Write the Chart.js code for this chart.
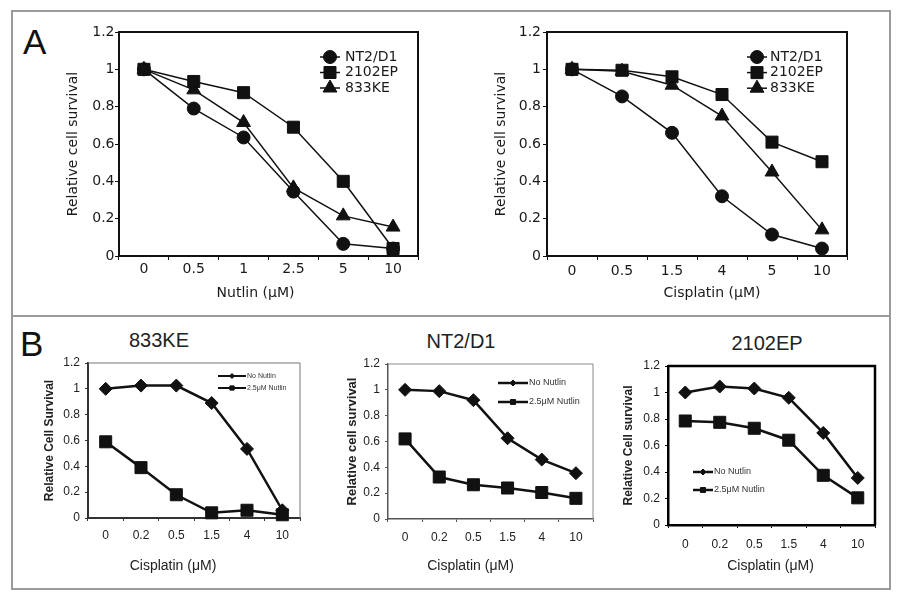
<!DOCTYPE html>
<html>
<head>
<meta charset="utf-8">
<script src="https://cdn.jsdelivr.net/npm/chart.js@4.4.0/dist/chart.umd.min.js"></script>
<style>
  body { margin: 0; background: #fff; width: 899px; height: 600px; position: relative; overflow: hidden; }
  .panel { position: absolute; box-sizing: border-box; border: 2px solid #9a9a9a; }
  canvas { position: absolute; }
  .letter { position: absolute; font: 35px/1 "Liberation Sans", Arial, sans-serif; color: #111; }
  .title { position: absolute; width: 120px; text-align: center; font: 20px/1 "Liberation Sans", Arial, sans-serif; color: #222; }
</style>
</head>
<body>
<div class="panel" style="left:11px;top:10px;width:880px;height:307px"></div>
<div class="panel" style="left:11px;top:315px;width:880px;height:275px"></div>
<div class="letter" style="left:23px;top:24px">A</div>
<div class="letter" style="left:20px;top:326px">B</div>
<div class="title" style="left:99px;top:330px">833KE</div>
<div class="title" style="left:401px;top:331px">NT2/D1</div>
<div class="title" style="left:707px;top:333px">2102EP</div>

<canvas id="nutlinChart" width="370" height="285" style="left:60px;top:20px"></canvas>
<canvas id="cisChart" width="372" height="285" style="left:488px;top:20px"></canvas>
<canvas id="ke833Chart" width="272" height="230" style="left:38px;top:350px"></canvas>
<canvas id="nt2Chart" width="263" height="230" style="left:340px;top:350px"></canvas>
<canvas id="ep2102Chart" width="268" height="230" style="left:617px;top:350px"></canvas>

<script>
(function(){
  // ---- data ----
  const nutlinDoses = ['0', '0.5', '1', '2.5', '5', '10'];
  const cisDosesA = ['0', '0.5', '1.5', '4', '5', '10'];
  const cisDosesB = ['0', '0.2', '0.5', '1.5', '4', '10'];
  const yTickLabels = ['0', '0.2', '0.4', '0.6', '0.8', '1', '1.2'];

  // panel A, Nutlin
  const nt2d1Nutlin = [1.0, 0.79, 0.635, 0.345, 0.065, 0.04];
  const ep2102Nutlin = [1.0, 0.935, 0.875, 0.69, 0.40, 0.04];
  const ke833Nutlin = [1.0, 0.89, 0.715, 0.365, 0.215, 0.155];

  // panel A, Cisplatin
  const nt2d1Cis = [1.0, 0.855, 0.66, 0.32, 0.115, 0.04];
  const ep2102Cis = [1.0, 0.995, 0.96, 0.865, 0.61, 0.505];
  const ke833Cis = [1.0, 0.99, 0.915, 0.75, 0.45, 0.14];

  // panel B
  const ke833NoNutlin = [1.0, 1.025, 1.025, 0.89, 0.535, 0.06];
  const ke833Nutlin25 = [0.59, 0.39, 0.18, 0.04, 0.06, 0.025];
  const nt2NoNutlin = [1.0, 0.99, 0.92, 0.625, 0.46, 0.355];
  const nt2Nutlin25 = [0.62, 0.325, 0.265, 0.24, 0.205, 0.16];
  const epNoNutlin = [1.0, 1.045, 1.03, 0.96, 0.695, 0.355];
  const epNutlin25 = [0.785, 0.775, 0.73, 0.64, 0.375, 0.205];

  // top and right edges of the plot box
  const plotBox = {
    id: 'plotBox',
    beforeDatasetsDraw(chart, args, opts) {
      const { ctx, chartArea: a } = chart;
      ctx.save();
      ctx.strokeStyle = opts.color;
      ctx.lineWidth = opts.width;
      ctx.beginPath();
      ctx.moveTo(a.left, a.top);
      ctx.lineTo(a.right, a.top);
      ctx.lineTo(a.right, a.bottom);
      ctx.stroke();
      ctx.restore();
    }
  };

  // x axis caption, which sits a bit off the plot centre in the original
  const xCaption = {
    id: 'xCaption',
    afterDraw(chart, args, opts) {
      const { ctx, chartArea: a } = chart;
      ctx.save();
      ctx.font = opts.font;
      ctx.fillStyle = opts.color;
      ctx.textAlign = 'center';
      ctx.textBaseline = 'middle';
      ctx.fillText(opts.text, (a.left + a.right) / 2 + opts.dx, chart.height - opts.fromBottom);
      ctx.restore();
    }
  };

  // legend drawn as line + marker, placed inside the plot
  const lineLegend = {
    id: 'lineLegend',
    afterDatasetsDraw(chart, args, opts) {
      const { ctx, chartArea: a } = chart;
      ctx.save();
      ctx.font = opts.font;
      ctx.textBaseline = 'middle';
      ctx.textAlign = 'left';
      chart.data.datasets.forEach((ds, i) => {
        const x = a.left + opts.x;
        const y = a.top + opts.y + i * opts.rowH;
        ctx.strokeStyle = ds.borderColor;
        ctx.lineWidth = opts.lineW || ds.borderWidth;
        ctx.beginPath();
        ctx.moveTo(x, y);
        ctx.lineTo(x + opts.lineLen, y);
        ctx.stroke();
        ctx.fillStyle = ds.pointBackgroundColor;
        ctx.strokeStyle = ds.pointBorderColor;
        ctx.lineWidth = 1;
        const r = opts.pointR ? opts.pointR[i] : ds.pointRadius;
        Chart.helpers.drawPoint(ctx, { pointStyle: ds.pointStyle, radius: r, borderWidth: 1, rotation: 0 }, x + opts.lineLen / 2, y);
        ctx.fillStyle = opts.color;
        ctx.fillText(ds.label, x + opts.lineLen + opts.gap, y);
      });
      ctx.restore();
    }
  };

  function makeChart(id, labels, series, cfg) {
    const canvas = document.getElementById(id);
    const datasets = series.map(s => ({
      label: s.label,
      data: s.data,
      borderColor: '#111',
      borderWidth: cfg.lineW,
      pointStyle: s.style,
      pointRadius: s.r,
      pointHoverRadius: s.r,
      pointBackgroundColor: '#111',
      pointBorderColor: '#111',
      pointBorderWidth: 1,
      tension: 0,
      clip: false
    }));

    return new Chart(canvas, {
      type: 'line',
      data: { labels: labels, datasets: datasets },
      plugins: [plotBox, lineLegend, xCaption],
      options: {
        responsive: false,
        animation: false,
        devicePixelRatio: 1,
        layout: { padding: { top: cfg.padTop, right: cfg.padRight, left: 0, bottom: 0 } },
        plugins: {
          legend: { display: false },
          tooltip: { enabled: false },
          plotBox: { color: cfg.boxColor, width: cfg.boxW },
          lineLegend: cfg.legend,
          xCaption: { text: cfg.xTitle, dx: cfg.xTitleDx, fromBottom: cfg.xTitleBottom, font: cfg.xTitleFont, color: cfg.textColor }
        },
        scales: {
          x: {
            type: 'category',
            offset: true,
            grid: { display: true, offset: true, drawOnChartArea: false, drawTicks: true, tickLength: cfg.tick, color: cfg.axisColor },
            border: { color: cfg.axisColor, width: cfg.axisW },
            ticks: { padding: cfg.xPad, color: cfg.textColor, font: cfg.tickFont, autoSkip: false, maxRotation: 0 },
            title: { display: false },
            afterFit: s => { s.height = cfg.xAxisH; }
          },
          y: {
            min: 0,
            max: 1.2,
            grid: { display: true, drawOnChartArea: false, drawTicks: true, tickLength: cfg.tick, color: cfg.axisColor },
            border: { color: cfg.axisColor, width: cfg.axisW },
            ticks: { stepSize: 0.2, padding: cfg.yPad, color: cfg.textColor, font: cfg.tickFont, callback: (v, i) => yTickLabels[i] },
            title: { display: true, text: cfg.yTitle, color: cfg.textColor, font: cfg.yTitleFont, padding: { top: cfg.yTitlePad, bottom: 0 } },
            afterFit: s => { s.width = cfg.yAxisW; }
          }
        }
      }
    });
  }

  const dejavu = 'DejaVu Sans';
  const arial = 'Liberation Sans';

  const panelA = {
    lineW: 1.5, tick: 4, axisColor: '#111', axisW: 2, boxColor: '#111', boxW: 2,
    textColor: '#1a1a1a',
    tickFont: { family: dejavu, size: 14 },
    xTitleFont: '14px "DejaVu Sans"',
    yTitleFont: { family: dejavu, size: 14 },
    yTitle: 'Relative cell survival',
    padTop: 12, xAxisH: 49, yAxisW: 59, yTitlePad: 4.6, xTitleBottom: 12
  };

  const seriesA = (a, b, c) => [
    { label: 'NT2/D1', data: a, style: 'circle', r: 6.5 },
    { label: '2102EP', data: b, style: 'rect', r: 8.5 },
    { label: '833KE', data: c, style: 'triangle', r: 8 }
  ];

  makeChart('nutlinChart', nutlinDoses, seriesA(nt2d1Nutlin, ep2102Nutlin, ke833Nutlin),
    Object.assign({}, panelA, {
      padRight: 12, xPad: 1, yPad: 0.5, xTitle: 'Nutlin (μM)', xTitleDx: -13,
      legend: { x: 201, y: 25, rowH: 15.5, lineLen: 20, gap: 5, font: '14px "DejaVu Sans"', color: '#1a1a1a' }
    }));

  makeChart('cisChart', cisDosesA, seriesA(nt2d1Cis, ep2102Cis, ke833Cis),
    Object.assign({}, panelA, {
      padRight: 13, xPad: 3.3, yPad: 2, xTitle: 'Cisplatin (μM)', xTitleDx: 15,
      legend: { x: 200, y: 25, rowH: 15.6, lineLen: 20, gap: 3, font: '14px "DejaVu Sans"', color: '#1a1a1a' }
    }));

  const panelB = {
    lineW: 2.5, tick: 3, textColor: '#222',
    tickFont: { family: arial, size: 12 },
    xTitleFont: '14px "Liberation Sans"',
    xTitle: 'Cisplatin (μM)', xTitleBottom: 14, padRight: 10
  };

  const seriesB = (a, b) => [
    { label: 'No Nutlin', data: a, style: 'rectRot', r: 6.5 },
    { label: '2.5μM Nutlin', data: b, style: 'rect', r: 8.5 }
  ];

  makeChart('ke833Chart', cisDosesB, seriesB(ke833NoNutlin, ke833Nutlin25),
    Object.assign({}, panelB, {
      axisColor: '#333', axisW: 2, boxColor: '#777', boxW: 1, xTitleDx: -21,
      yTitle: 'Relative Cell Survival', yTitleFont: { family: arial, size: 12, weight: 'bold' },
      padTop: 13, xAxisH: 62, yAxisW: 50, yTitlePad: 4.8, xPad: 7.8, yPad: 5,
      legend: { x: 130, y: 13, rowH: 12, lineLen: 28, gap: 1, lineW: 2, pointR: [2.5, 3], font: '7px "Liberation Sans"', color: '#333' }
    }));

  makeChart('nt2Chart', cisDosesB, seriesB(nt2NoNutlin, nt2Nutlin25),
    Object.assign({}, panelB, {
      axisColor: '#555', axisW: 1.5, boxColor: '#888', boxW: 1, xTitleDx: -20,
      yTitle: 'Relative cell survival', yTitleFont: { family: arial, size: 13, weight: 'bold' },
      padTop: 14, xAxisH: 61, yAxisW: 48, yTitlePad: 4.2, xPad: 8.8, yPad: 5,
      legend: { x: 110, y: 19, rowH: 19, lineLen: 30, gap: 1, lineW: 2.5, pointR: [3, 3.5], font: '9px "Liberation Sans"', color: '#333' }
    }));

  makeChart('ep2102Chart', cisDosesB, seriesB(epNoNutlin, epNutlin25),
    Object.assign({}, panelB, {
      axisColor: '#000', axisW: 2.5, boxColor: '#000', boxW: 2.5, xTitleDx: -1,
      yTitle: 'Relative Cell survival', yTitleFont: { family: arial, size: 12, weight: 'bold' },
      padTop: 16, xAxisH: 55, yAxisW: 51, yTitlePad: 4.8, xPad: 9.8, yPad: 5,
      legend: { x: 25, y: 106, rowH: 18, lineLen: 20, gap: 1, lineW: 2.5, pointR: [3, 3.5], font: '9px "Liberation Sans"', color: '#333' }
    }));
})();
</script>
</body>
</html>
